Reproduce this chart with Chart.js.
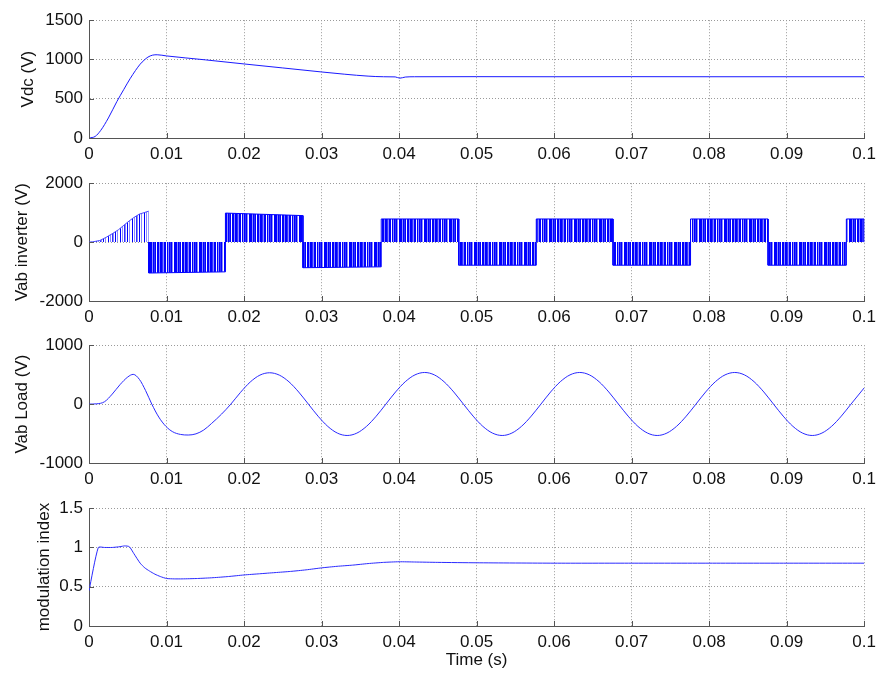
<!DOCTYPE html>
<html lang="en">
<head>
    <meta charset="UTF-8">
    <title>Inverter simulation</title>
    <script src="https://cdn.jsdelivr.net/npm/chart.js@4.4.0/dist/chart.umd.min.js"></script>
    <style>
        body { margin: 0; background: #fff; }
        #wrap { position: relative; width: 882px; height: 675px; }
        canvas { position: absolute; left: 0; }
    </style>
</head>
<body>
<div id="wrap">
    <canvas id="c1" width="882" height="162" style="top:4px"></canvas>
    <canvas id="c2" width="882" height="162" style="top:167px"></canvas>
    <canvas id="c3" width="882" height="162" style="top:329px"></canvas>
    <canvas id="c4" width="882" height="182" style="top:492px"></canvas>
</div>

<script>
    // DC link voltage
    var vdcT = [0, 0.0008, 0.0015, 0.0025, 0.0036, 0.0045, 0.0053, 0.006, 0.0066, 0.0071, 0.0076, 0.0082, 0.0088, 0.01, 0.015, 0.02, 0.025, 0.03, 0.033, 0.036, 0.038, 0.0395, 0.0401, 0.0408, 0.042, 0.05, 0.06, 0.07, 0.08, 0.09, 0.1];
    var vdcV = [0, 20, 95, 255, 465, 620, 755, 860, 940, 990, 1030, 1055, 1060, 1045, 995, 943, 892, 841, 812, 788, 780, 778, 762, 776, 780, 781, 780, 781, 780, 780, 780];

    // inverter output: start-up ramp, then half-cycle blocks
    var rampT = [0, 0.0005, 0.0014, 0.0022, 0.0031, 0.0038, 0.0044, 0.005, 0.0057, 0.0065, 0.0077];
    var rampV = [0, 10, 55, 160, 300, 420, 550, 680, 820, 950, 1050];
    var blockStart = [0.0077, 0.0176, 0.0276, 0.0377, 0.0477, 0.0577, 0.0676, 0.0776, 0.0876, 0.0977];
    var blockEnd   = [0.0176, 0.0276, 0.0377, 0.0477, 0.0577, 0.0676, 0.0776, 0.0876, 0.0977, 0.1];
    var blockV0    = [-1050, 985, -870, 785, -785, 785, -785, 785, -785, 785];
    var blockV1    = [-1010, 900, -840, 785, -785, 785, -785, 785, -785, 785];

    // load voltage
    var loadT = [0, 0.001, 0.002, 0.003, 0.004, 0.005, 0.0057, 0.0065, 0.0073, 0.0081, 0.009, 0.0099, 0.0108, 0.0118, 0.0128, 0.0138, 0.0148, 0.0158, 0.0171,
        0.0183, 0.01955, 0.0208, 0.02205, 0.0233, 0.02455, 0.0258, 0.02705, 0.0283, 0.02955, 0.0308, 0.03205, 0.0333, 0.03455, 0.0358, 0.03705,
        0.0383, 0.03955, 0.0408, 0.04205, 0.0433, 0.04455, 0.0458, 0.04705, 0.0483, 0.04955, 0.0508, 0.05205, 0.0533, 0.05455, 0.0558, 0.05705,
        0.0583, 0.05955, 0.0608, 0.06205, 0.0633, 0.06455, 0.0658, 0.06705, 0.0683, 0.06955, 0.0708, 0.07205, 0.0733, 0.07455, 0.0758, 0.07705,
        0.0783, 0.07955, 0.0808, 0.08205, 0.0833, 0.08455, 0.0858, 0.08705, 0.0883, 0.08955, 0.0908, 0.09205, 0.0933, 0.09455, 0.0958, 0.09705,
        0.0983, 0.1];
    var loadV = [0, 5, 40, 170, 330, 460, 505, 420, 230, 0, -220, -375, -470, -515, -525, -505, -440, -330, -170,
        0, 200, 375, 492, 532, 492, 378, 205, 0, -205, -378, -493, -533, -493, -378, -205,
        0, 206, 380, 496, 537, 496, 380, 206, 0, -204, -377, -492, -533, -492, -377, -204,
        0, 206, 380, 496, 537, 496, 380, 206, 0, -204, -377, -492, -533, -492, -377, -204,
        0, 206, 380, 496, 537, 496, 380, 206, 0, -204, -377, -492, -533, -492, -377, -204,
        0, 275];

    // modulation index
    var modT = [0, 0.0012, 0.002, 0.003, 0.004, 0.0046, 0.0052, 0.0058, 0.0066, 0.0072, 0.0078, 0.0085, 0.0092, 0.01, 0.011, 0.012, 0.014, 0.016, 0.018, 0.02,
        0.022, 0.024, 0.026, 0.028, 0.03, 0.032, 0.034, 0.036, 0.038, 0.04, 0.042, 0.045, 0.05, 0.06, 0.07, 0.08, 0.09, 0.1];
    var modV = [0.45, 1.0, 1.0, 1.0, 1.01, 1.02, 1.01, 0.92, 0.8, 0.74, 0.7, 0.66, 0.63, 0.605, 0.6, 0.6, 0.605, 0.615, 0.63, 0.65,
        0.665, 0.68, 0.695, 0.715, 0.74, 0.76, 0.775, 0.795, 0.81, 0.818, 0.815, 0.81, 0.805, 0.80, 0.80, 0.80, 0.80, 0.80];

    function pts(xs, ys) {
        return xs.map(function (x, i) { return {x: x, y: ys[i]}; });
    }

    var blockPts = [];
    for (var i = 0; i < blockStart.length; i++) {
        blockPts.push({x: blockStart[i], y: 0});
        blockPts.push({x: blockStart[i], y: blockV0[i]});
        blockPts.push({x: blockEnd[i], y: blockV1[i]});
        blockPts.push({x: blockEnd[i], y: 0});
    }

    // striped fills to look like PWM pulses
    function stripes(cols) {
        var c = document.createElement('canvas');
        c.width = cols.length; c.height = 4;
        var g = c.getContext('2d');
        cols.forEach(function (col, i) { g.fillStyle = col; g.fillRect(i, 0, 1, 4); });
        return g.createPattern(c, 'repeat');
    }
    var B = '#0000ff', L = '#8a8aff', W = '#ffffff', M = '#3030ff';
    var densePattern = stripes([B, B, L, B, M, B, W, B, B, L, B, B, M, L, B, B, W, B, L, B, M, B, L, W, B]);
    var sparsePattern = stripes([B, W, L, W, M, L, W, B, W, L, W, W]);

    var FONT = '"Liberation Sans", Arial, sans-serif';

    // MATLAB-style inward tick marks
    var innerTicks = {
        id: 'innerTicks',
        afterDraw: function (chart) {
            var ctx = chart.ctx, a = chart.chartArea;
            var xs = chart.scales.x, ys = chart.scales.y;
            ctx.save();
            ctx.strokeStyle = '#555';
            ctx.lineWidth = 1;
            ctx.beginPath();
            xs.ticks.forEach(function (t) {
                var px = Math.round(xs.getPixelForValue(t.value)) + 0.5;
                ctx.moveTo(px, a.bottom); ctx.lineTo(px, a.bottom - 5);
            });
            ys.ticks.forEach(function (t) {
                var py = Math.round(ys.getPixelForValue(t.value)) + 0.5;
                ctx.moveTo(a.left, py); ctx.lineTo(a.left + 5, py);
            });
            ctx.stroke();
            ctx.restore();
        }
    };

    function fmt(v) { return String(Number(v.toFixed(3))); }

    function makeChart(id, datasets, yMin, yMax, yStep, yTitle, titlePad, last) {
        return new Chart(id, {
            type: 'line',
            data: {datasets: datasets},
            plugins: [innerTicks],
            options: {
                responsive: false,
                animation: false,
                layout: {padding: {top: 12, left: 0, right: 16, bottom: 0}},
                plugins: {legend: {display: false}, tooltip: {enabled: false}},
                elements: {point: {radius: 0}, line: {borderWidth: 1}},
                scales: {
                    x: {
                        type: 'linear', min: 0, max: 0.1,
                        afterFit: function (s) { s.height = last ? 48 : 28; },
                        ticks: {stepSize: 0.01, padding: 6, color: '#111', font: {family: FONT, size: 17}, callback: fmt, maxRotation: 0, autoSkip: false},
                        grid: {color: '#9a9a9a', drawTicks: false, lineWidth: 1},
                        border: {display: true, color: '#555', width: 1, dash: [1, 2]},
                        title: {display: !!last, text: 'Time (s)', color: '#111', font: {family: FONT, size: 17}, padding: {top: 0, bottom: 3}}
                    },
                    y: {
                        min: yMin, max: yMax,
                        afterFit: function (s) { s.width = 89; },
                        ticks: {stepSize: yStep, padding: 6, color: '#111', font: {family: FONT, size: 17}, callback: fmt},
                        grid: {color: '#9a9a9a', drawTicks: false, lineWidth: 1},
                        border: {display: true, color: '#555', width: 1, dash: [1, 2]},
                        title: {display: true, text: yTitle, color: '#111', font: {family: FONT, size: 17}, padding: {top: titlePad, bottom: 0}}
                    }
                }
            }
        });
    }

    makeChart('c1', [
        {data: pts(vdcT, vdcV), borderColor: '#1a1aff', cubicInterpolationMode: 'monotone'}
    ], 0, 1500, 500, 'Vdc (V)', 18, false);

    makeChart('c2', [
        {data: pts(rampT, rampV), borderColor: '#4a4aff', borderWidth: 1, fill: 'origin', backgroundColor: sparsePattern, tension: 0},
        {data: blockPts, borderColor: '#0000ff', borderWidth: 1, fill: 'origin', backgroundColor: densePattern, tension: 0}
    ], -2000, 2000, 2000, 'Vab inverter (V)', 12, false);

    makeChart('c3', [
        {data: pts(loadT, loadV), borderColor: '#2a2aff', cubicInterpolationMode: 'monotone'}
    ], -1000, 1000, 1000, 'Vab Load (V)', 12, false);

    makeChart('c4', [
        {data: pts(modT, modV), borderColor: '#2a2aff', tension: 0.2}
    ], 0, 1.5, 0.5, 'modulation index', 34, true);
</script>
</body>
</html>
